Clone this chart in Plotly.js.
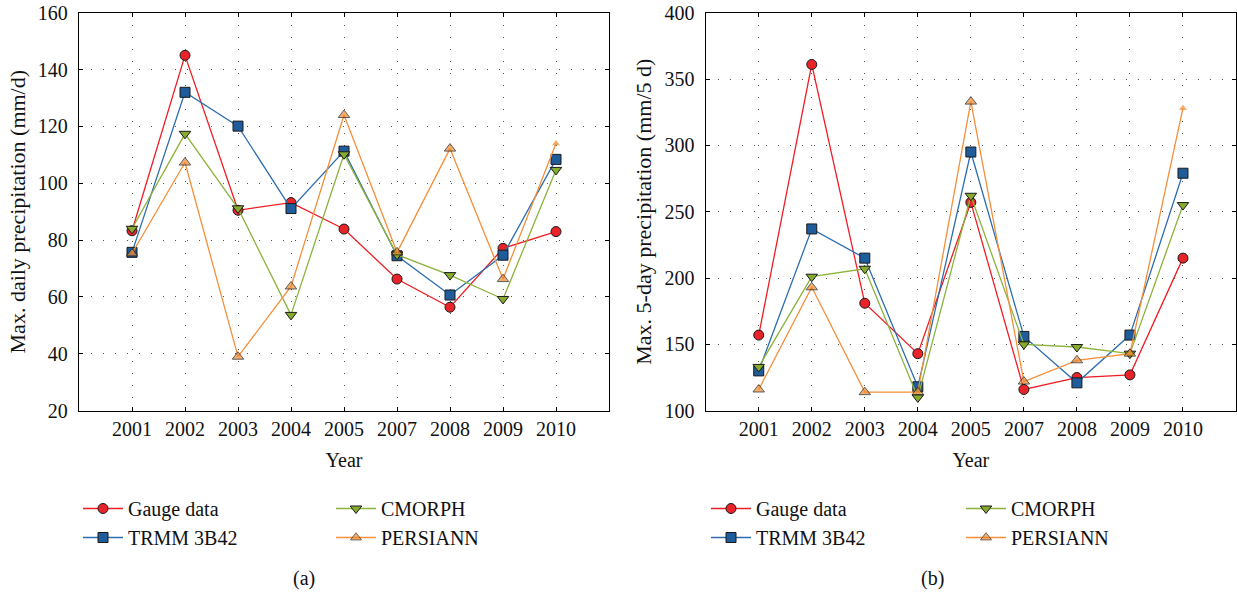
<!DOCTYPE html>
<html>
<head>
<meta charset="utf-8">
<script src="https://cdn.plot.ly/plotly-3.0.1.min.js"></script>
<style>html,body{margin:0;padding:0;background:#fff;}#chart{width:1237px;height:592px;}</style>
</head>
<body>
<div id="chart"></div>
<script>
const years = ["2001","2002","2003","2004","2005","2007","2008","2009","2010"];

// (a) Max. daily precipitation (mm/d)
const dailyGauge    = [83.3, 145, 90.5, 93.2, 83.9, 66.3, 56.4, 77.1, 83];
const dailyTRMM     = [75.7, 132, 120.1, 91.1, 111.3, 74.5, 60.7, 74.7, 108.4];
const dailyCMORPH   = [84, 117.4, 91.2, 53.7, 110.2, 74.9, 67.7, 59.3, 104.7];
const dailyPERSIANN = [75.3, 107.3, 39, 63.7, 124, 75.7, 112.2, 66.3, 114];

// (b) Max. 5-day precipitation (mm/5 d)
const fiveGauge    = [157, 361, 181, 143, 257, 116, 125, 127, 215];
const fiveTRMM     = [130, 237, 215, 118, 295, 156, 121, 157, 279];
const fiveCMORPH   = [133, 201, 207, 110, 262, 150, 148, 143, 255];
const fivePERSIANN = [116, 193, 114, 114, 333, 122, 138, 143, 328];

const seriesNames = ["Gauge data", "TRMM 3B42", "CMORPH", "PERSIANN"];

const FONT = "Liberation Serif, Times New Roman, serif";
const styles = [
  {line: "#ee1d24", fill: "#e8232a", symbol: "circle", size: 10},
  {line: "#2c6eb0", fill: "#1f5c9c", symbol: "square", size: 10},
  {line: "#8cb33b", fill: "#86ab2e", symbol: "triangle-down", size: 10},
  {line: "#f58f3a", fill: "#ee8a2e", symbol: "triangle-up", size: 10}
];

function mk(vals, i, xa, ya, legend) {
  const st = styles[i];
  const n = vals.length;
  let sizes = st.size, lw = 1;
  if (i === 3) {
    sizes = vals.map((v, k) => k === n - 1 ? 7 : st.size);
    lw = vals.map((v, k) => k === n - 1 ? 0 : 1);
  }
  return {
    type: "scatter", mode: "lines+markers",
    x: years, y: vals, name: seriesNames[i],
    xaxis: xa, yaxis: ya, legend: legend,
    line: {color: st.line, width: 1.3},
    marker: {symbol: st.symbol, size: sizes, color: st.fill, line: {color: "#1a1a1a", width: lw}},
    cliponaxis: false
  };
}

const traces = [
  mk(dailyGauge, 0, "x", "y", "legend"),
  mk(dailyTRMM, 1, "x", "y", "legend"),
  mk(dailyCMORPH, 2, "x", "y", "legend2"),
  mk(dailyPERSIANN, 3, "x", "y", "legend2"),
  mk(fiveGauge, 0, "x2", "y2", "legend3"),
  mk(fiveTRMM, 1, "x2", "y2", "legend3"),
  mk(fiveCMORPH, 2, "x2", "y2", "legend4"),
  mk(fivePERSIANN, 3, "x2", "y2", "legend4")
];

const W = 1237, H = 592;
const px = v => v / W, py = v => 1 - v / H;

const xbase = {
  type: "category", range: [-1, 9], fixedrange: true,
  showline: true, linecolor: "#000", linewidth: 1.2, mirror: "ticks",
  ticks: "inside", ticklen: 4, tickcolor: "#000", tickwidth: 1,
  showgrid: true, gridcolor: "#555", gridwidth: 1, griddash: "1px,11px",
  zeroline: false, tickfont: {family: FONT, size: 20, color: "#111"},
  title: {text: "Year", font: {family: FONT, size: 20, color: "#111"}, standoff: 14},
  automargin: false
};
const ybase = {
  showline: true, linecolor: "#000", linewidth: 1.2, mirror: "ticks",
  ticks: "inside", ticklen: 4, tickcolor: "#000", tickwidth: 1,
  showgrid: true, gridcolor: "#555", gridwidth: 1, griddash: "1px,11px",
  zeroline: false, tickfont: {family: FONT, size: 20, color: "#111"},
  ticklabelstandoff: 6, automargin: false
};

const legBase = {
  orientation: "v", bgcolor: "rgba(0,0,0,0)", borderwidth: 0,
  font: {family: FONT, size: 20, color: "#111"},
  itemwidth: 40, xanchor: "left", yanchor: "top", tracegroupgap: 0
};

const layout = {
  width: W, height: H,
  margin: {l: 0, r: 0, t: 0, b: 0},
  paper_bgcolor: "#fff", plot_bgcolor: "#fff",
  showlegend: true,
  xaxis: Object.assign({}, xbase, {domain: [px(79), px(609)], anchor: "y"}),
  yaxis: Object.assign({}, ybase, {domain: [py(410.7), py(12.7)], anchor: "x",
    range: [20, 160], dtick: 20, tick0: 20,
    title: {text: "Max. daily precipitation (mm/d)", font: {family: FONT, size: 22, color: "#111"}, standoff: 6}}),
  xaxis2: Object.assign({}, xbase, {domain: [px(705.7), px(1236)], anchor: "y2"}),
  yaxis2: Object.assign({}, ybase, {domain: [py(410.7), py(12.7)], anchor: "x2",
    range: [100, 400], dtick: 50, tick0: 100,
    title: {text: "Max. 5-day precipitation (mm/5 d)", font: {family: FONT, size: 22, color: "#111"}, standoff: 6}}),
  legend:  Object.assign({}, legBase, {x: px(78), y: py(489)}),
  legend2: Object.assign({}, legBase, {x: px(331), y: py(489)}),
  legend3: Object.assign({}, legBase, {x: px(706), y: py(489)}),
  legend4: Object.assign({}, legBase, {x: px(961), y: py(489)}),
  annotations: [
    {text: "(a)", xref: "paper", yref: "paper", x: px(304), y: py(578), xanchor: "center", yanchor: "middle",
     showarrow: false, font: {family: FONT, size: 20, color: "#111"}},
    {text: "(b)", xref: "paper", yref: "paper", x: px(932), y: py(578), xanchor: "center", yanchor: "middle",
     showarrow: false, font: {family: FONT, size: 20, color: "#111"}}
  ]
};

Plotly.newPlot("chart", traces, layout, {staticPlot: true, displayModeBar: false});
</script>
</body>
</html>
